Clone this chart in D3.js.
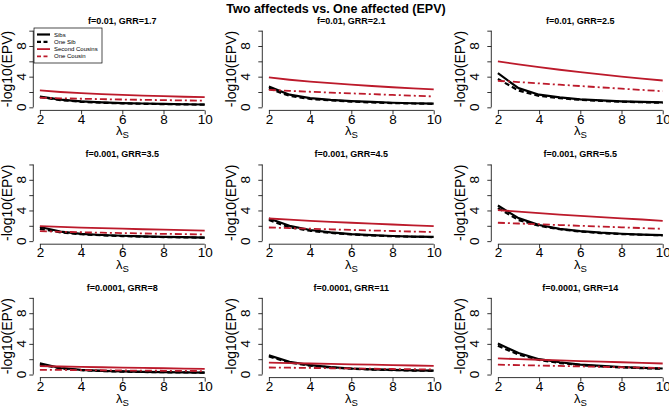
<!DOCTYPE html>
<html>
<head>
<meta charset="utf-8">
<script src="https://cdn.jsdelivr.net/npm/d3@7"></script>
<style>
  html, body { margin: 0; padding: 0; background: #fff; }
  svg { display: block; font-family: "Liberation Sans", Arial, Helvetica, sans-serif; }
</style>
</head>
<body>
<svg id="chart" width="669" height="408"></svg>
<script>
// ---------------- data ----------------
const mainTitle = "Two affecteds vs. One affected (EPV)";
const lambdaS = [2, 3, 4, 5, 6, 7, 8, 9, 10];
const panelTitles = [
  "f=0.01, GRR=1.7", "f=0.01, GRR=2.1", "f=0.01, GRR=2.5",
  "f=0.001, GRR=3.5", "f=0.001, GRR=4.5", "f=0.001, GRR=5.5",
  "f=0.0001, GRR=8", "f=0.0001, GRR=11", "f=0.0001, GRR=14"
];
const seriesNames = ["Sibs", "One Sib", "Second Cousins", "One Cousin"];
const xTicks = [2, 4, 6, 8, 10];
const yTicks = [0, 2, 4, 6, 8, 10];
const yTickLabels = [0, 4, 8];

const sibs = [
  [1.40, 1.00, 0.78, 0.65, 0.56, 0.50, 0.45, 0.40, 0.37],
  [2.70, 1.65, 1.20, 0.98, 0.82, 0.70, 0.60, 0.53, 0.48],
  [4.45, 2.50, 1.65, 1.30, 1.05, 0.90, 0.78, 0.70, 0.65],
  [1.85, 1.25, 0.95, 0.80, 0.70, 0.62, 0.56, 0.51, 0.47],
  [2.95, 2.00, 1.45, 1.15, 0.92, 0.78, 0.67, 0.60, 0.55],
  [4.65, 3.00, 2.10, 1.60, 1.30, 1.10, 0.96, 0.86, 0.78],
  [1.45, 0.85, 0.60, 0.48, 0.40, 0.35, 0.31, 0.28, 0.26],
  [2.50, 1.67, 1.23, 0.97, 0.79, 0.68, 0.60, 0.54, 0.50],
  [4.05, 2.80, 2.00, 1.60, 1.30, 1.12, 0.98, 0.87, 0.79]
];
const oneSib = [
  [1.35, 0.95, 0.72, 0.60, 0.52, 0.46, 0.42, 0.38, 0.35],
  [2.45, 1.50, 1.10, 0.90, 0.75, 0.64, 0.56, 0.50, 0.45],
  [3.70, 2.20, 1.50, 1.20, 0.98, 0.84, 0.73, 0.66, 0.60],
  [1.60, 1.15, 0.90, 0.76, 0.66, 0.59, 0.53, 0.49, 0.45],
  [2.75, 1.80, 1.35, 1.07, 0.87, 0.74, 0.64, 0.57, 0.52],
  [4.30, 2.75, 2.00, 1.55, 1.25, 1.05, 0.92, 0.83, 0.75],
  [1.30, 0.80, 0.57, 0.46, 0.38, 0.33, 0.30, 0.27, 0.25],
  [2.35, 1.55, 1.15, 0.92, 0.76, 0.65, 0.58, 0.52, 0.48],
  [3.75, 2.60, 1.90, 1.50, 1.23, 1.05, 0.93, 0.83, 0.75]
];
const secondCousins = [
  [2.20, 2.00, 1.85, 1.72, 1.62, 1.53, 1.45, 1.38, 1.32],
  [3.90, 3.60, 3.35, 3.15, 2.95, 2.78, 2.62, 2.47, 2.33],
  [6.00, 5.60, 5.25, 4.90, 4.60, 4.30, 4.00, 3.75, 3.50],
  [1.95, 1.85, 1.77, 1.69, 1.62, 1.55, 1.49, 1.43, 1.37],
  [2.95, 2.80, 2.65, 2.52, 2.40, 2.28, 2.17, 2.06, 1.95],
  [4.05, 3.85, 3.65, 3.47, 3.30, 3.13, 2.97, 2.82, 2.65],
  [1.10, 1.05, 1.00, 0.95, 0.90, 0.86, 0.82, 0.78, 0.75],
  [1.55, 1.50, 1.44, 1.39, 1.33, 1.28, 1.23, 1.18, 1.12],
  [2.10, 2.02, 1.93, 1.84, 1.76, 1.68, 1.60, 1.52, 1.44]
];
const oneCousin = [
  [1.25, 1.18, 1.12, 1.07, 1.02, 0.98, 0.94, 0.90, 0.87],
  [2.27, 2.15, 2.03, 1.92, 1.82, 1.72, 1.62, 1.52, 1.42],
  [3.45, 3.30, 3.12, 2.95, 2.78, 2.60, 2.43, 2.27, 2.10],
  [1.30, 1.22, 1.16, 1.10, 1.05, 1.00, 0.95, 0.91, 0.87],
  [1.78, 1.70, 1.62, 1.54, 1.46, 1.39, 1.32, 1.25, 1.18],
  [2.40, 2.30, 2.20, 2.10, 2.00, 1.90, 1.80, 1.70, 1.60],
  [0.62, 0.60, 0.58, 0.56, 0.53, 0.51, 0.49, 0.47, 0.45],
  [0.92, 0.89, 0.86, 0.82, 0.79, 0.76, 0.72, 0.69, 0.66],
  [1.28, 1.23, 1.17, 1.12, 1.06, 1.01, 0.95, 0.90, 0.85]
];

// ---------------- layout / style ----------------
const RED = "#BC1A2B";
const styles = [
  { color: "#000", width: 2.2, dash: null },
  { color: "#000", width: 2.2, dash: "5,3" },
  { color: RED, width: 1.8, dash: null },
  { color: RED, width: 1.8, dash: "7,3,2,3" }
];
const colLeft = [33.3, 262.3, 491.3];
const rowBottom = [110.4, 244.2, 377.6];
const PW = 178, PH = 82.8;
const tickLabGap = [11.6, 17, 17];
const yLabGap = [26.6, 31, 31];

const svg = d3.select("#chart");
svg.append("rect").attr("width", 669).attr("height", 408).attr("fill", "#fff");

svg.append("text")
  .attr("x", 336).attr("y", 12.5)
  .attr("text-anchor", "middle")
  .attr("font-weight", "bold").attr("font-size", 12.5)
  .text(mainTitle);

const allSeries = [sibs, oneSib, secondCousins, oneCousin];

panelTitles.forEach((title, p) => {
  const r = Math.floor(p / 3), c = p % 3;
  const left = colLeft[c], bottom = rowBottom[r], top = bottom - PH;
  const x = d3.scaleLinear().domain([1.68, 10.32]).range([left, left + PW]);
  const y = d3.scaleLinear().domain([-0.4, 10.4]).range([bottom, top]);
  const g = svg.append("g");

  // panel title
  g.append("text")
    .attr("x", left + PW / 2).attr("y", top - 4)
    .attr("text-anchor", "middle").attr("font-weight", "bold").attr("font-size", 9)
    .text(title);

  // x axis
  const xa = g.append("g").attr("transform", `translate(0,${bottom})`)
    .call(d3.axisBottom(x).tickValues(xTicks).tickSize(4).tickSizeOuter(0).tickFormat(d3.format("d")));
  xa.select(".domain").attr("d", `M${x(2)},0H${x(10)}`).attr("stroke", "#000").attr("stroke-width", 0.8);
  xa.selectAll(".tick line").attr("stroke", "#000").attr("stroke-width", 0.8);
  xa.selectAll(".tick text").attr("y", 13.3).attr("dy", null)
    .attr("font-size", 13.5).attr("font-family", "Liberation Sans, Arial, sans-serif").attr("fill", "#000");

  // y axis
  const ya = g.append("g").attr("transform", `translate(${left},0)`)
    .call(d3.axisLeft(y).tickValues(yTicks).tickSize(4).tickSizeOuter(0).tickFormat(() => ""));
  ya.select(".domain").attr("d", `M0,${y(0)}V${y(10)}`).attr("stroke", "#000").attr("stroke-width", 0.8);
  ya.selectAll(".tick line").attr("stroke", "#000").attr("stroke-width", 0.8);
  yTickLabels.forEach(v => {
    g.append("text")
      .attr("transform", `translate(${left - tickLabGap[c]},${y(v)}) rotate(-90)`)
      .attr("text-anchor", "middle").attr("dominant-baseline", "central")
      .attr("font-size", 13.5).text(v);
  });

  // axis labels
  g.append("text")
    .attr("transform", `translate(${left - yLabGap[c]},${(top + bottom) / 2}) rotate(-90)`)
    .attr("text-anchor", "middle").attr("dominant-baseline", "central")
    .attr("font-size", 14).text("-log10(EPV)");
  const xl = g.append("text")
    .attr("x", left + PW / 2).attr("y", bottom + 25)
    .attr("text-anchor", "middle").attr("font-size", 13);
  xl.append("tspan").text("λ");
  xl.append("tspan").attr("font-size", 9.5).attr("dy", 3).text("S");

  // lines
  const line = d3.line().x((d, i) => x(lambdaS[i])).y(d => y(d));
  allSeries.forEach((s, k) => {
    g.append("path")
      .attr("d", line(s[p]))
      .attr("fill", "none")
      .attr("stroke", styles[k].color)
      .attr("stroke-width", styles[k].width)
      .attr("stroke-dasharray", styles[k].dash)
      .attr("stroke-linejoin", "round");
  });
});

// legend (panel 1)
const lg = svg.append("g");
lg.append("rect").attr("x", 34).attr("y", 28).attr("width", 68).attr("height", 35)
  .attr("fill", "#fff").attr("stroke", "#000").attr("stroke-width", 0.7);
seriesNames.forEach((name, k) => {
  const yy = 34.5 + k * 7.3;
  lg.append("line").attr("x1", 37).attr("x2", 50).attr("y1", yy).attr("y2", yy)
    .attr("stroke", styles[k].color).attr("stroke-width", styles[k].width)
    .attr("stroke-dasharray", (k === 1 || k === 3) ? "4,2.5" : null);
  lg.append("text").attr("x", 54).attr("y", yy).attr("dominant-baseline", "central")
    .attr("font-size", 6).text(name);
});
</script>
</body>
</html>
